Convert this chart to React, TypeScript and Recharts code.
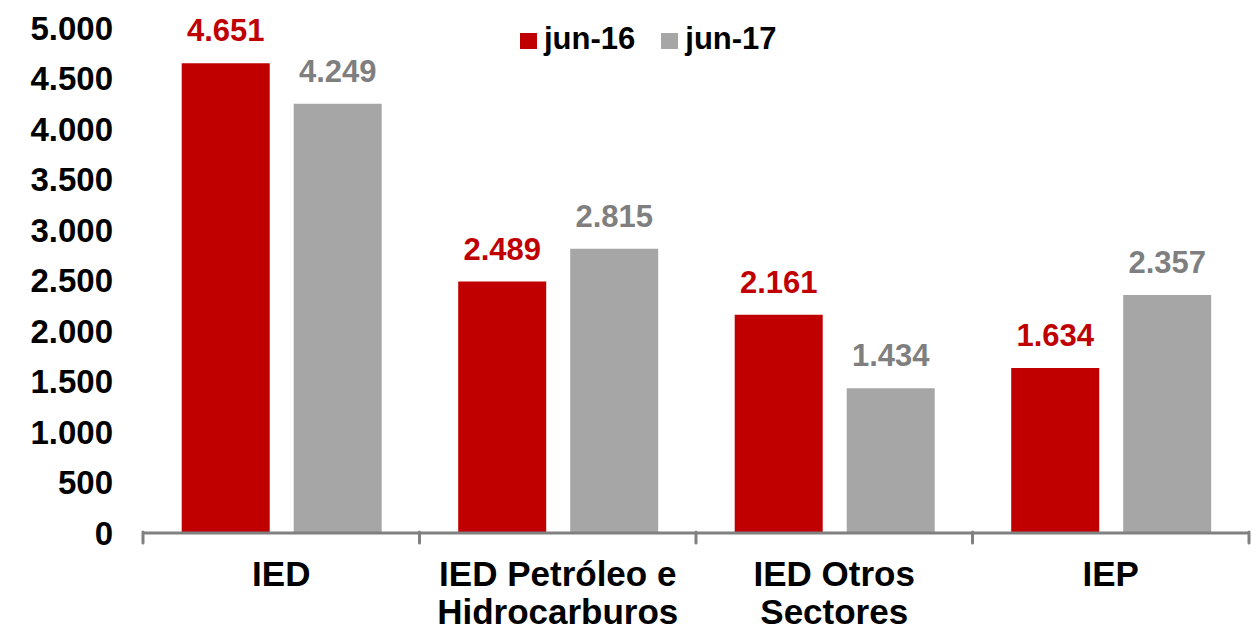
import { BarChart, Bar, XAxis, YAxis, Legend, LabelList } from "recharts";

const categories = ["IED", "IED Petróleo e\nHidrocarburos", "IED Otros\nSectores", "IEP"];
const jun16 = [4651, 2489, 2161, 1634];
const jun17 = [4249, 2815, 1434, 2357];
const yTicks = [0, 500, 1000, 1500, 2000, 2500, 3000, 3500, 4000, 4500, 5000];

const RED = "#C00000";
const GRAY = "#A6A6A6";
const AXIS = "#808080";
const FONT = "'Liberation Sans', Arial, sans-serif";

const data = categories.map((name, i) => ({ name, jun16: jun16[i], jun17: jun17[i] }));

const fmt = (v: number) => String(v).replace(/\B(?=(\d{3})+(?!\d))/g, ".");

// category label + the small tick marks sitting on the category borders
function CategoryTick({ x, y, payload, width, visibleTicksCount, index }: any) {
  const lines = String(payload.value).split("\n");
  const band = width / visibleTicksCount;
  const edges = [x - band / 2];
  if (index === visibleTicksCount - 1) edges.push(x + band / 2);
  return (
    <g>
      {edges.map((ex) => (
        <line key={ex} x1={ex} x2={ex} y1={y - 1} y2={y + 10} stroke={AXIS} strokeWidth={3} strokeLinecap="round" />
      ))}
      <text x={x} y={y} textAnchor="middle" fontFamily={FONT} fontWeight="bold" fontSize={35} fill="#000">
        {lines.map((l, i) => (
          <tspan key={i} x={x} dy={i === 0 ? 53 : 38}>
            {l}
          </tspan>
        ))}
      </text>
    </g>
  );
}

function LegendBox() {
  const items = [
    { label: "jun-16", color: RED },
    { label: "jun-17", color: GRAY },
  ];
  return (
    <div style={{ display: "flex", alignItems: "center", fontFamily: FONT, fontWeight: "bold", fontSize: 31, color: "#000" }}>
      {items.map((it) => (
        <div key={it.label} style={{ display: "flex", alignItems: "center", marginRight: 26 }}>
          <span style={{ width: 17, height: 16, background: it.color, display: "inline-block", marginRight: 7, marginTop: 4 }} />
          <span>{it.label}</span>
        </div>
      ))}
    </div>
  );
}

export default function App() {
  return (
    <div style={{ position: "absolute", left: 0, top: 0, width: 1256, height: 632, background: "#fff" }}>
      <BarChart
        width={1256}
        height={632}
        data={data}
        margin={{ top: 28, right: 7, bottom: 0, left: 0 }}
        barCategoryGap="14%"
        barGap={24}
      >
        <XAxis
          dataKey="name"
          axisLine={{ stroke: AXIS, strokeWidth: 3 }}
          tickLine={false}
          tickSize={0}
          tickMargin={0}
          interval={0}
          tick={<CategoryTick />}
          height={99}
        />
        <YAxis
          domain={[0, 5000]}
          ticks={yTicks}
          interval={0}
          width={143}
          axisLine={false}
          tickLine={false}
          tickSize={0}
          tickMargin={30}
          tickFormatter={fmt}
          tick={{ fontFamily: FONT, fontWeight: "bold", fontSize: 33, fill: "#000" }}
        />
        <Legend
          verticalAlign="middle"
          layout="horizontal"
          wrapperStyle={{ top: 21, left: 520, width: "auto" }}
          content={() => <LegendBox />}
        />
        <Bar dataKey="jun16" name="jun-16" fill={RED} isAnimationActive={false}>
          <LabelList
            dataKey="jun16"
            position="top"
            offset={22}
            formatter={(v: any) => fmt(v)}
            style={{ fontFamily: FONT, fontWeight: "bold", fontSize: 31, fill: RED }}
          />
        </Bar>
        <Bar dataKey="jun17" name="jun-17" fill={GRAY} isAnimationActive={false}>
          <LabelList
            dataKey="jun17"
            position="top"
            offset={22}
            formatter={(v: any) => fmt(v)}
            style={{ fontFamily: FONT, fontWeight: "bold", fontSize: 31, fill: "#7F7F7F" }}
          />
        </Bar>
      </BarChart>
    </div>
  );
}
